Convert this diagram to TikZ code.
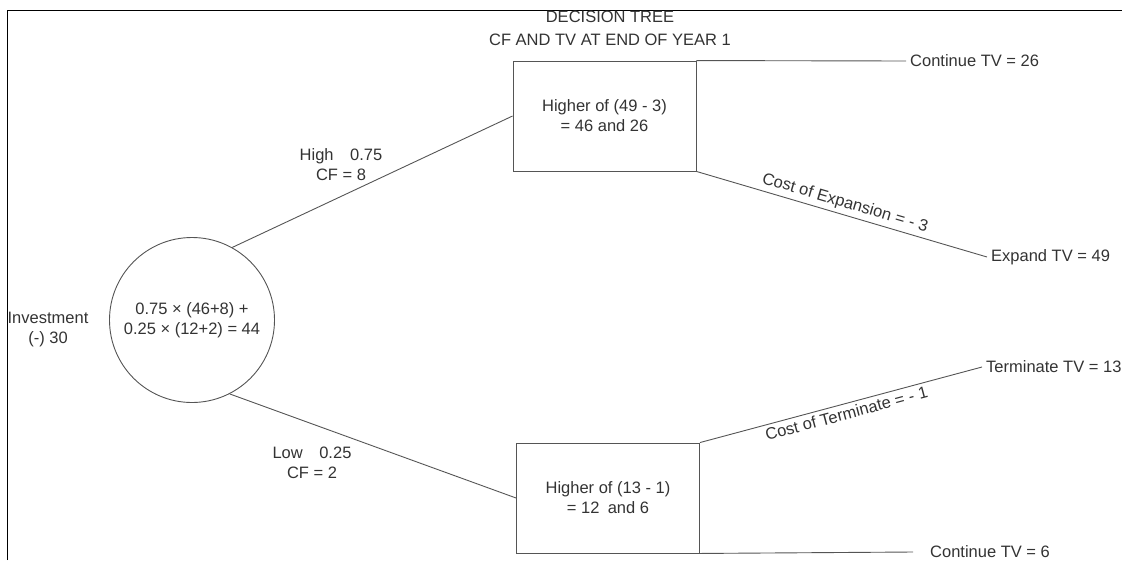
\documentclass[tikz,border=0pt]{standalone}
\usepackage{fontspec}
\setmainfont{Liberation Sans}
\usetikzlibrary{positioning}
\definecolor{txt}{HTML}{333333}
\definecolor{ln}{HTML}{555555}

\begin{document}
\begin{tikzpicture}[x=1pt, y=-1pt,
		every node/.style={font=\fontsize{16.5}{20}\selectfont, text=txt, align=center},
		box/.style={draw=ln, line width=0.9pt, minimum width=183pt, minimum height=110pt},
		chance/.style={draw=ln, line width=0.9pt, circle, minimum size=165pt, inner sep=0pt},
		tv/.style={anchor=west, inner xsep=4pt},
		branch/.style={draw=ln, line width=0.9pt}]
		\useasboundingbox (0,0) rectangle (1126,560);
		\draw[line width=1pt] (7,560) -- (7,10) -- (1122,10);

		\node (title) at (610,28) [font=\fontsize{16.5}{23}\selectfont] {DECISION TREE\\CF AND TV AT END OF YEAR 1};

		\node (root) at (192,320) [chance] {0.75 × (46+8) +\\0.25 × (12+2) = 44};
		\node (invest) at (48,330) {Investment\\(-) 30};

		\node (hi) at (604.5,116) [box] {Higher of (49 - 3)\\= 46 and 26};
		\node (lo) at (608,498) [box] {Higher of (13 - 1)\\= 12\enspace and 6};

		\node (high) at (341,165) {High\quad 0.75\\CF = 8};
		\node (low) at (312,463) {Low\quad 0.25\\CF = 2};

		\node (cont1) at (906,61) [tv] {Continue TV = 26};
		\node (expand) at (987,257) [tv] {Expand TV = 49};
		\node (term) at (982,367) [tv] {Terminate TV = 13};
		\node (cont2) at (913,552) [tv, inner xsep=17pt] {Continue TV = 6};

		\path[branch]
		(root.61) edge (hi.west)
		(root.-63) edge (lo.west)
		(hi.north east) edge (cont1.west)
		(hi.south east) edge node[sloped, above] {Cost of Expansion = - 3} (expand.west)
		(lo.north east) edge node[sloped, below, pos=0.51] {Cost of Terminate = - 1} (term.west)
		(lo.south east) edge (cont2.west);
	\end{tikzpicture}
\end{document}
